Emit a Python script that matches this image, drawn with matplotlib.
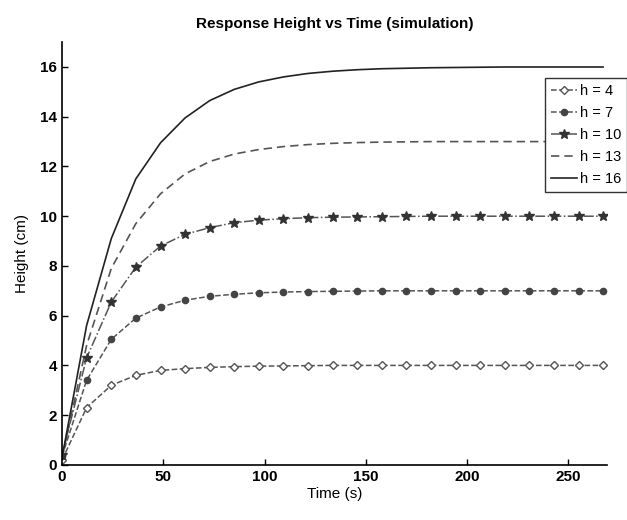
import matplotlib.pyplot as plt
import numpy as np

# sample times (s), one per marker
t = [0, 12.1, 24.3, 36.4, 48.6, 60.7, 72.9, 85.0, 97.1, 109.3, 121.4, 133.6,
     145.7, 157.9, 170.0, 182.1, 194.3, 206.4, 218.6, 230.7, 242.9, 255.0, 267.1]

h4 = [0.2, 2.3, 3.2, 3.6, 3.8, 3.87, 3.92, 3.95, 3.97, 3.98, 3.99, 4.0,
      4.0, 4.0, 4.0, 4.0, 4.0, 4.0, 4.0, 4.0, 4.0, 4.0, 4.0]
h7 = [0.35, 3.4, 5.05, 5.9, 6.35, 6.62, 6.78, 6.86, 6.92, 6.95, 6.97, 6.98,
      6.99, 7.0, 7.0, 7.0, 7.0, 7.0, 7.0, 7.0, 7.0, 7.0, 7.0]
h10 = [0.4, 4.3, 6.55, 7.95, 8.8, 9.27, 9.54, 9.74, 9.84, 9.9, 9.94, 9.96,
       9.97, 9.98, 9.99, 10.0, 10.0, 10.0, 10.0, 10.0, 10.0, 10.0, 10.0]
h13 = [0.3, 4.8, 7.9, 9.7, 10.9, 11.7, 12.2, 12.5, 12.68, 12.8, 12.88, 12.93,
       12.96, 12.98, 12.99, 13.0, 13.0, 13.0, 13.0, 13.0, 13.0, 13.0, 13.0]
h16 = [0.3, 5.6, 9.1, 11.5, 12.95, 13.95, 14.65, 15.1, 15.4, 15.6, 15.74, 15.83,
       15.89, 15.93, 15.95, 15.97, 15.98, 15.99, 16.0, 16.0, 16.0, 16.0, 16.0]

labels = ['h = 4', 'h = 7', 'h = 10', 'h = 13', 'h = 16']

plt.rcParams['font.family'] = ['Liberation Sans', 'DejaVu Sans']

fig = plt.figure(figsize=(6.27, 5.2), dpi=100)
ax = fig.add_axes([0.099, 0.106, 0.869, 0.813])

gray = '#555555'
ax.plot(t, h4, '--', color=gray, lw=1.1, marker='D', ms=4.5, mfc='white', mec=gray, label=labels[0])
ax.plot(t, h7, '--', color=gray, lw=1.1, marker='o', ms=4.5, mfc='#444444', mec='#444444', label=labels[1])
ax.plot(t, h10, '-.', color=gray, lw=1.1, marker='*', ms=7, mfc='#333333', mec='#333333', label=labels[2])
ax.plot(t, h13, '--', color=gray, lw=1.2, dashes=(5, 3), label=labels[3])
ax.plot(t, h16, '-', color='#222222', lw=1.2, label=labels[4])

ax.set_xlim(0, 269)
ax.set_ylim(0, 17)
ax.set_xticks([0, 50, 100, 150, 200, 250])
ax.set_yticks([0, 2, 4, 6, 8, 10, 12, 14, 16])
for s in ['top', 'right']:
    ax.spines[s].set_visible(False)
ax.spines['left'].set_linewidth(1.2)
ax.spines['bottom'].set_linewidth(1.2)
ax.tick_params(direction='in', length=4, width=1, labelsize=11)
for lab in ax.get_xticklabels() + ax.get_yticklabels():
    lab.set_fontweight('bold')

ax.set_title('Response Height vs Time (simulation)', fontsize=11, fontweight='bold', pad=10)
ax.set_xlabel('Time (s)', fontsize=11, labelpad=2)
ax.set_ylabel('Height (cm)', fontsize=11, labelpad=8)

leg = ax.legend(loc='upper left', bbox_to_anchor=(0.886, 0.915),
                prop={'size': 10.5},
                frameon=True, fancybox=False, framealpha=1, edgecolor='#333333',
                handlelength=1.8, handletextpad=0.2, borderpad=0.4, labelspacing=0.55,
                borderaxespad=0)

fig.savefig('out.png', dpi=100)
